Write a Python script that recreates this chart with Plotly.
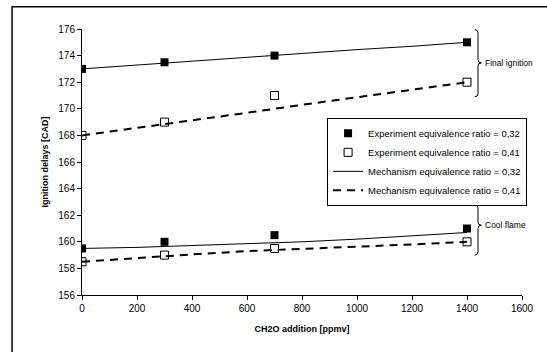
import plotly.graph_objects as go

# Data
x_exp = [0, 300, 700, 1400]
exp_032_final = [173.0, 173.5, 174.0, 175.0]
exp_041_final = [168.0, 169.0, 171.0, 172.0]
exp_032_cool = [159.5, 160.0, 160.5, 161.0]
exp_041_cool = [158.5, 159.0, 159.5, 160.0]

x_mech = [0, 200, 400, 600, 800, 1000, 1200, 1400]
mech_032_final = [173.0, 173.3, 173.6, 173.85, 174.15, 174.45, 174.7, 175.0]
mech_041_final = [168.0, 168.55, 169.15, 169.7, 170.3, 170.85, 171.45, 172.0]
mech_032_cool = [159.5, 159.58, 159.72, 159.85, 160.0, 160.2, 160.45, 160.7]
mech_041_cool = [158.5, 158.8, 159.05, 159.3, 159.45, 159.65, 159.8, 160.0]

FONT = "Liberation Sans, Arial, sans-serif"

fig = go.Figure()

def nan_join(a, b):
    return a + [None] + b

# Mechanism lines
fig.add_trace(go.Scatter(x=nan_join(x_mech, x_mech), y=nan_join(mech_032_final, mech_032_cool),
                         mode="lines", line=dict(color="black", width=1),
                         name="Mechanism equivalence ratio = 0,32", legendrank=3))
fig.add_trace(go.Scatter(x=nan_join(x_mech, x_mech), y=nan_join(mech_041_final, mech_041_cool),
                         mode="lines", line=dict(color="black", width=2, dash="8px,6px"),
                         name="Mechanism equivalence ratio = 0,41", legendrank=4))
# Experiments
fig.add_trace(go.Scatter(x=nan_join(x_exp, x_exp), y=nan_join(exp_032_final, exp_032_cool),
                         mode="markers", marker=dict(symbol="square", size=8, color="black"),
                         name="Experiment equivalence ratio = 0,32", legendrank=1))
fig.add_trace(go.Scatter(x=nan_join(x_exp, x_exp), y=nan_join(exp_041_final, exp_041_cool),
                         mode="markers",
                         marker=dict(symbol="square-open", size=8, color="black", line=dict(width=1)),
                         name="Experiment equivalence ratio = 0,41", legendrank=2))

# Braces
def brace(x0, x1, ytop, ybot, ymid, dy):
    xm = (x0 + x1) / 2
    return (f"M {x0},{ytop} Q {xm},{ytop} {xm},{ytop - dy} "
            f"L {xm},{ymid + dy} Q {xm},{ymid} {x1},{ymid} "
            f"Q {xm},{ymid} {xm},{ymid - dy} "
            f"L {xm},{ybot + dy} Q {xm},{ybot} {x0},{ybot}")

shapes = [
    dict(type="path", xref="x", yref="y", path=brace(1428, 1452, 175.95, 170.9, 173.45, 0.25),
         line=dict(color="black", width=1)),
    dict(type="path", xref="x", yref="y", path=brace(1428, 1452, 162.8, 159.0, 161.25, 0.25),
         line=dict(color="black", width=1)),
    dict(type="rect", xref="paper", yref="paper", x0=-0.159, x1=1.2, y0=-0.3, y1=1.084,
         line=dict(color="black", width=1.5)),
]

annotations = [
    dict(x=1458, y=173.45, xref="x", yref="y", text="Final ignition", showarrow=False,
         xanchor="left", font=dict(size=8.5, family=FONT, color="black")),
    dict(x=1458, y=161.3, xref="x", yref="y", text="Cool flame", showarrow=False,
         xanchor="left", font=dict(size=8.5, family=FONT, color="black")),
]

fig.update_layout(
    width=547, height=352,
    margin=dict(l=82, r=25, t=29, b=57, autoexpand=False),
    paper_bgcolor="white", plot_bgcolor="white",
    font=dict(family=FONT, size=10, color="black"),
    showlegend=True,
    legend=dict(x=0.557, y=0.666, xanchor="left", yanchor="top",
                bgcolor="white", bordercolor="black", borderwidth=1,
                font=dict(size=9.5, family=FONT), tracegroupgap=0, itemwidth=30),
    shapes=shapes, annotations=annotations,
    xaxis=dict(range=[0, 1600], tickvals=[0, 200, 400, 600, 800, 1000, 1200, 1400, 1600],
               showgrid=False, zeroline=False, showline=True, linecolor="black", linewidth=1,
               ticks="outside", ticklen=4, tickcolor="black", automargin=False,
               title=dict(text="<b>CH2O addition [ppmv]</b>", font=dict(size=9, family=FONT), standoff=12)),
    yaxis=dict(range=[156, 176], tickvals=list(range(156, 177, 2)),
               showgrid=False, zeroline=False, showline=True, linecolor="black", linewidth=1,
               ticks="outside", ticklen=4, tickcolor="black", automargin=False,
               title=dict(text="<b>Ignition delays [CAD]</b>", font=dict(size=9, family=FONT), standoff=8)),
)

fig.write_html("out.html", config={"displayModeBar": False},
               post_script="document.body.style.margin='0';")
